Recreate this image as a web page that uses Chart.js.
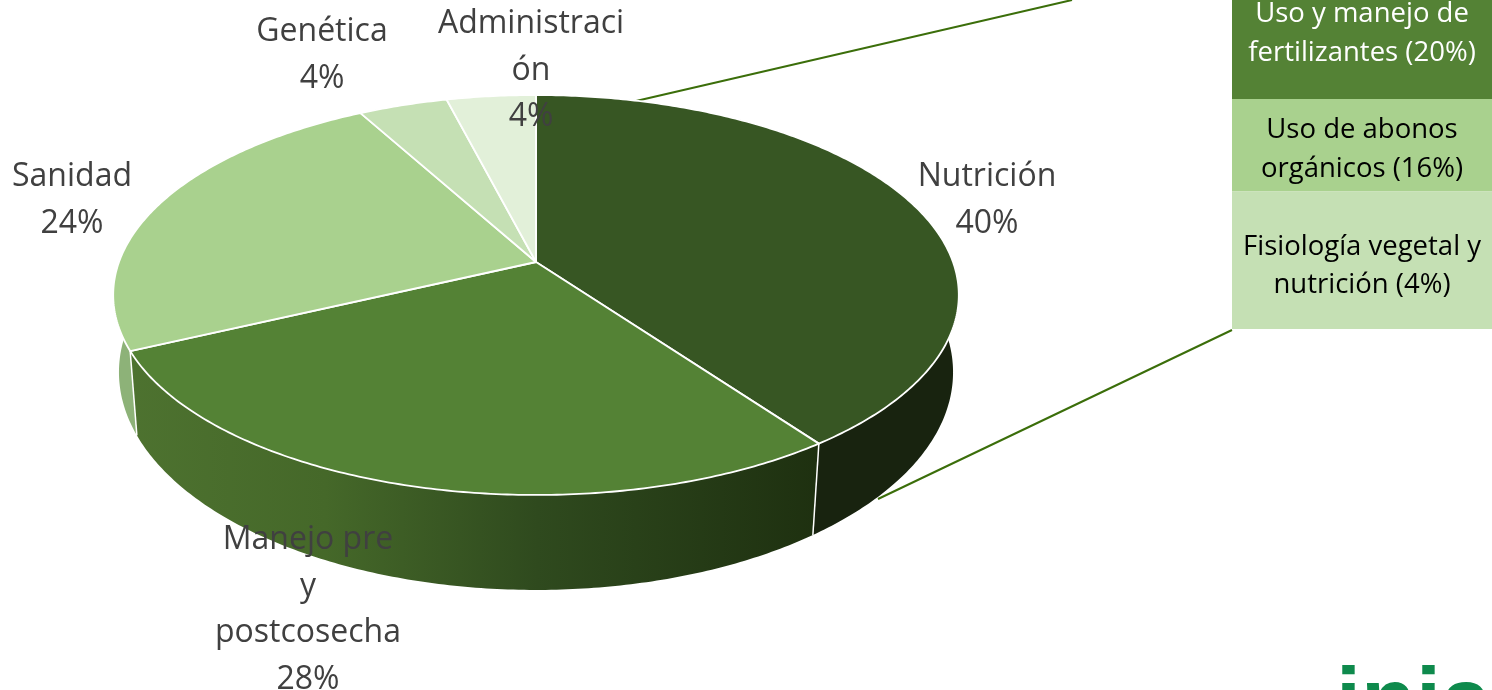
<!DOCTYPE html>
<html>
<head>
<meta charset="utf-8">
<title>Temas de investigación</title>
<script src="https://cdn.jsdelivr.net/npm/chart.js@4"></script>
<style>
  html, body { margin: 0; padding: 0; background: #fff; overflow: hidden; }
  #wrap { width: 1492px; height: 690px; }
</style>
</head>
<body>
<div id="wrap"><canvas id="pie" width="1492" height="690"></canvas></div>
<script>
const categories = ["Nutrición", "Manejo pre y postcosecha", "Sanidad", "Genética", "Administración"];
const shares = [40, 28, 24, 4, 4];
const sliceColors = ["#375623", "#548235", "#A9D18E", "#C5E0B4", "#E2F0D9"];
const labelLines = [["Nutrición"], ["Manejo pre", "y", "postcosecha"], ["Sanidad"], ["Genética"], ["Administraci", "ón"]];

const subLines = [["Uso y manejo de", "fertilizantes"], ["Uso de abonos", "orgánicos"], ["Fisiología vegetal y", "nutrición"]];
const subShares = [20, 16, 4];
const subColors = ["#548235", "#A9D18E", "#C5E0B4"];
const subText = ["#ffffff", "#000000", "#000000"];

// the tilted disc: one projective map per plane (fitted on the reference)
const topPlane = { cx: 536, r: 417, c: -0.165, a: 151.3, b: 262 };
const lowPlane = { cx: 536, r: 412, c: -0.155, a: 160, b: 338.5 };

function project(p, angle) {
  const u = Math.cos(angle), v = Math.sin(angle);
  const w = 1 + p.c * v;
  return [p.cx + p.r * u / w, (p.b + p.a * v) / w];
}

function rim(p, from, to) {
  const pts = [];
  const n = Math.max(4, Math.ceil((to - from) * 90));
  for (let i = 0; i <= n; i++) pts.push(project(p, from + (to - from) * i / n));
  return pts;
}

function tracePts(ctx, pts, keepGoing) {
  pts.forEach((q, i) => (i === 0 && !keepGoing) ? ctx.moveTo(q[0], q[1]) : ctx.lineTo(q[0], q[1]));
}

function wallFill(ctx, i) {
  if (i === 0) return "#18230F";
  const g = ctx.createLinearGradient(113, 0, 820, 0);
  if (i === 1) {
    g.addColorStop(0, "#4E7330");
    g.addColorStop(0.3, "#456829");
    g.addColorStop(0.6, "#2F4A1E");
    g.addColorStop(1, "#1E3010");
    return g;
  }
  return i === 2 ? "#8DB278" : sliceColors[i];
}

const tiltedPie = {
  id: "tiltedPie",
  afterDatasetsDraw(chart) {
    const ctx = chart.ctx;
    const arcs = chart.getDatasetMeta(0).data;
    ctx.save();

    // leader lines to the breakdown boxes
    ctx.strokeStyle = "#3B6E0A";
    ctx.lineWidth = 2;
    ctx.beginPath();
    ctx.moveTo(636, 101);
    ctx.lineTo(1072, 0);
    ctx.moveTo(878, 499);
    ctx.lineTo(1232, 330);
    ctx.stroke();

    // side walls, top surface covers the far ones
    arcs.forEach((arc, i) => {
      ctx.beginPath();
      tracePts(ctx, rim(topPlane, arc.startAngle, arc.endAngle));
      tracePts(ctx, rim(lowPlane, arc.startAngle, arc.endAngle).reverse(), true);
      ctx.closePath();
      ctx.fillStyle = wallFill(ctx, i);
      ctx.fill();
    });
    ctx.strokeStyle = "#ffffff";
    ctx.lineWidth = 1.5;
    arcs.forEach(arc => {
      const a = project(topPlane, arc.endAngle), b = project(lowPlane, arc.endAngle);
      if (b[1] <= a[1]) return;
      ctx.beginPath();
      ctx.moveTo(a[0], a[1]);
      ctx.lineTo(b[0], b[1]);
      ctx.stroke();
    });

    // top surface
    arcs.forEach((arc, i) => {
      const mid = [topPlane.cx, topPlane.b];
      ctx.beginPath();
      ctx.moveTo(mid[0], mid[1]);
      tracePts(ctx, rim(topPlane, arc.startAngle, arc.endAngle), true);
      ctx.closePath();
      ctx.fillStyle = sliceColors[i];
      ctx.fill();
      ctx.strokeStyle = "#ffffff";
      ctx.lineWidth = 1.8;
      ctx.lineJoin = "round";
      ctx.stroke();
    });

    // category labels
    const spots = [[987, 186], [308, 549], [72, 186], [322, 41], [531, 33]];
    ctx.font = "32px 'Open Sans'";
    ctx.fillStyle = "#404040";
    ctx.textAlign = "center";
    ctx.textBaseline = "alphabetic";
    labelLines.forEach((lines, i) => {
      const rows = lines.concat([shares[i] + "%"]);
      rows.forEach((t, k) => ctx.fillText(t, spots[i][0], spots[i][1] + k * 46.5));
    });

    // breakdown boxes
    const edges = [-40, 99, 191.5, 329];
    const baselines = [[22, 61], [138, 177], [255, 293]];
    ctx.font = "27.5px 'Open Sans'";
    subLines.forEach((lines, i) => {
      ctx.fillStyle = subColors[i];
      ctx.fillRect(1232, edges[i], 260, edges[i + 1] - edges[i]);
      ctx.fillStyle = subText[i];
      ctx.fillText(lines[0], 1362, baselines[i][0]);
      ctx.fillText(lines[1] + " (" + subShares[i] + "%)", 1362, baselines[i][1]);
    });

    // logo, cut by the bottom of the slide
    ctx.font = "bold 90px 'Liberation Sans'";
    ctx.fillStyle = "#0E8A4C";
    ctx.textAlign = "left";
    ctx.fillText("inia", 1336, 731);

    ctx.restore();
  }
};

new Chart(document.getElementById("pie"), {
  type: "pie",
  data: {
    labels: categories,
    datasets: [{ data: shares, backgroundColor: "transparent", borderWidth: 0 }]
  },
  options: {
    responsive: false,
    animation: false,
    events: [],
    plugins: { legend: { display: false }, tooltip: { enabled: false } }
  },
  plugins: [tiltedPie]
});
</script>
</body>
</html>
